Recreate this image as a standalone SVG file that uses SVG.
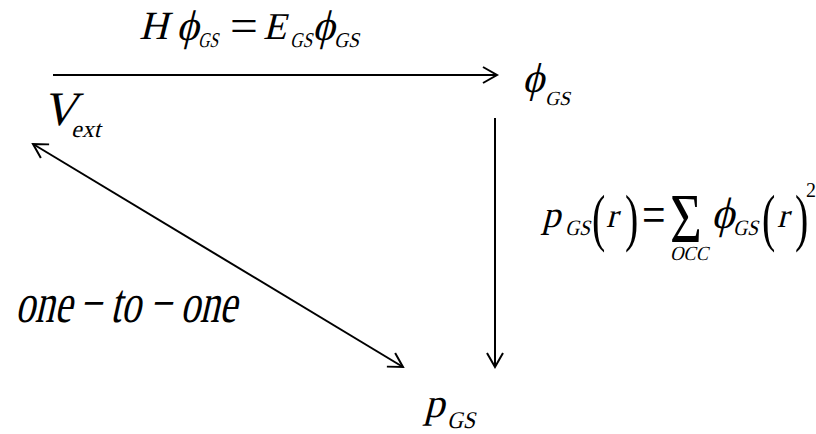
<svg xmlns="http://www.w3.org/2000/svg" width="816" height="434" viewBox="0 0 816 434">
<style>
.ln{stroke:#000;stroke-width:2;fill:none}
text{font-family:'Liberation Serif','Times New Roman',serif;font-style:normal;fill:#000}
</style>
<defs>
<marker id="ah" markerWidth="20" markerHeight="20" refX="16" refY="10" orient="auto-start-reverse" markerUnits="userSpaceOnUse">
<path d="M2,2 L16,10 L2,18" fill="none" stroke="#000" stroke-width="2"/>
</marker>
</defs>
<rect width="816" height="434" fill="#fff"/>
<g id="connectors">
<line class="ln" x1="53" y1="75" x2="497" y2="75" marker-end="url(#ah)"/>
<line class="ln" x1="495" y1="118" x2="495" y2="367" marker-end="url(#ah)"/>
<line class="ln" x1="33" y1="144" x2="403" y2="367" marker-start="url(#ah)" marker-end="url(#ah)"/>
</g>
<g id="label-top">
<text transform="translate(139 39) skewX(-14)" font-size="40">H</text>
<text transform="translate(176 40) skewX(-14)" font-size="43">ϕ</text>
<text transform="translate(198 47) skewX(-14)" font-size="21" textLength="20" lengthAdjust="spacingAndGlyphs">GS</text>
<text transform="translate(230 41) scale(1.3 1.2)" font-size="38">=</text>
<text transform="translate(263 39) skewX(-14)" font-size="38">E</text>
<text transform="translate(290 47) skewX(-14)" font-size="21" textLength="22" lengthAdjust="spacingAndGlyphs">GS</text>
<text transform="translate(312 40) skewX(-14)" font-size="43">ϕ</text>
<text transform="translate(334 47) skewX(-14)" font-size="21" textLength="25" lengthAdjust="spacingAndGlyphs">GS</text>
</g>
<g id="node-vext">
<text transform="translate(42 125) skewX(-14)" font-size="48">V</text>
<text transform="translate(71 137) skewX(-14)" font-size="24">ext</text>
</g>
<g id="node-phigs">
<text transform="translate(522 92) skewX(-14)" font-size="42">ϕ</text>
<text transform="translate(545 105) skewX(-14)" font-size="20" textLength="25" lengthAdjust="spacingAndGlyphs">GS</text>
</g>
<g id="node-pgs">
<text transform="translate(424 417) skewX(-14)" font-size="41">p</text>
<text transform="translate(447 428) skewX(-14)" font-size="24" textLength="28" lengthAdjust="spacingAndGlyphs">GS</text>
</g>
<g id="label-density">
<text transform="translate(542 227) skewX(-14)" font-size="37">p</text>
<text transform="translate(565 235) skewX(-14)" font-size="22" textLength="25" lengthAdjust="spacingAndGlyphs">GS</text>
<text transform="translate(592 238.6) scale(1 1.58)" font-size="40">(</text>
<text transform="translate(606 227) skewX(-14)" font-size="34">r</text>
<text transform="translate(625 238.6) scale(1 1.58)" font-size="40">)</text>
<text transform="translate(642 233) scale(0.95 1.25)" font-size="44">=</text>
<text transform="translate(670 242) scale(0.78 1)" font-size="70">Σ</text>
<text transform="translate(670 260) skewX(-14)" font-size="20" textLength="38" lengthAdjust="spacingAndGlyphs">OCC</text>
<text transform="translate(711 228) skewX(-14)" font-size="44">ϕ</text>
<text transform="translate(733 235) skewX(-14)" font-size="22" textLength="25" lengthAdjust="spacingAndGlyphs">GS</text>
<text transform="translate(762 238.6) scale(1 1.58)" font-size="40">(</text>
<text transform="translate(777 227) skewX(-14)" font-size="34">r</text>
<text transform="translate(795 238.6) scale(1 1.58)" font-size="40">)</text>
<text transform="translate(806 197)" font-size="20">2</text>
</g>
<g id="label-one-to-one">
<text transform="translate(0 322) scale(0.7 1) skewX(-18)" font-size="56"><tspan x="21.4">one</tspan><tspan x="112.6">−</tspan><tspan x="157">to</tspan><tspan x="212.6">−</tspan><tspan x="257">one</tspan></text>
</g>
</svg>
